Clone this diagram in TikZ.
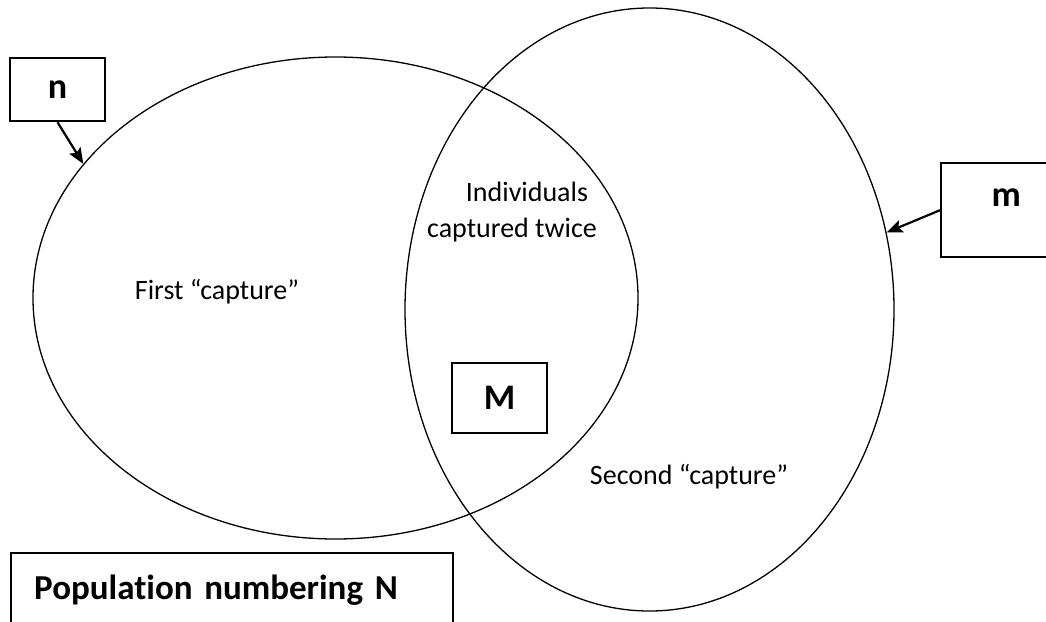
\documentclass[tikz,border=0pt]{standalone}
\usepackage{fontspec}
\setmainfont{Carlito}[Ligatures=NoCommon]
\usetikzlibrary{shapes.geometric, arrows.meta}
\tikzset{
    setellipse/.style={ellipse, draw=black, line width=1.3pt, inner sep=0pt},
    labelbox/.style={rectangle, draw=black, line width=2.4pt, inner sep=0pt,
                     font=\fontsize{36}{40}\selectfont\bfseries},
    plaintext/.style={align=center, font=\fontsize{28}{36}\selectfont},
    arrow/.style={-{Stealth[length=16pt, width=13pt, inset=3pt]}, line width=2.2pt},
}
\begin{document}
\begin{tikzpicture}[x=1pt, y=-1pt]
    \useasboundingbox (0,0) rectangle (1046,621);
    % the two samples
    \node[setellipse, minimum width=605pt, minimum height=482pt] (first) at (335.5,298) {};
    \node[setellipse, minimum width=489pt, minimum height=603pt] (second) at (649.5,309.5) {};
    \node[plaintext] (firstlbl) at (217,292) {First “capture”};
    \node[plaintext] (secondlbl) at (689,477) {Second “capture”};
    \node[plaintext] (twicelbl) at (512,212) {\hspace*{30pt}Individuals\\captured twice};
    % boxes
    \node[labelbox, minimum width=95pt, minimum height=63pt] (nbox) at (57.5,89.5) {n};
    \node[labelbox, anchor=north west, minimum width=130pt, minimum height=94pt,
          text height=17pt, text depth=24pt] (mbox) at (940,162) {m};
    \node[labelbox, minimum width=95pt, minimum height=70pt] (Mbox) at (499.5,398) {M};
    \node[labelbox, anchor=north west, text width=396pt, align=left, inner xsep=23pt,
          inner ysep=21pt, text height=25pt, text depth=40pt,
          font=\fontsize{35}{40}\selectfont\bfseries] (popbox) at (10,552)
          {Population numbering N};
    % pointers
    \draw[arrow] (nbox.south) -- (first.152);
    \draw[arrow] (mbox.west) -- (second.18);
\end{tikzpicture}
\end{document}
